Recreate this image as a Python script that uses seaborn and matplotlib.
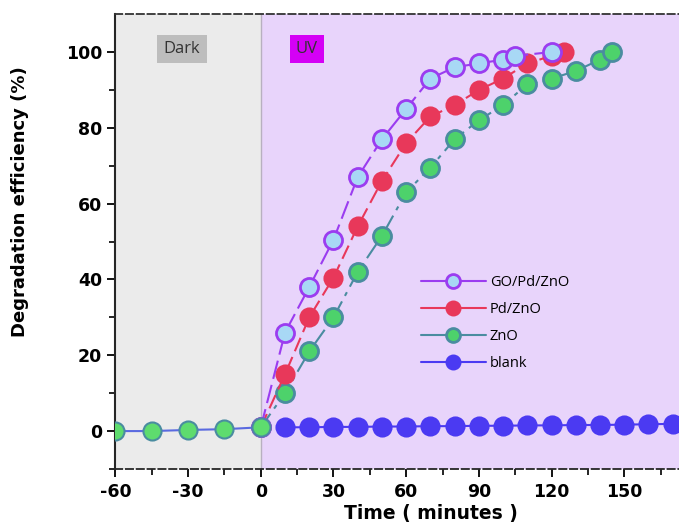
import matplotlib
matplotlib.use('Agg')
import matplotlib.pyplot as plt
import seaborn as sns
import numpy as np

# dark phase (adsorption), shared by all samples
dark_time = [-60, -45, -30, -15, 0]
dark_values = [0.0, 0.0, 0.3, 0.5, 1.0]

# UV phase
go_time = [0, 10, 20, 30, 40, 50, 60, 70, 80, 90, 100, 105, 120]
go_values = [1, 26, 38, 50.5, 67, 77, 85, 93, 96, 97, 98, 99, 100]

pd_time = [0, 10, 20, 30, 40, 50, 60, 70, 80, 90, 100, 110, 120, 125]
pd_values = [1, 15, 30, 40.5, 54, 66, 76, 83, 86, 90, 93, 97, 99, 100]

zno_time = [0, 10, 20, 30, 40, 50, 60, 70, 80, 90, 100, 110, 120, 130, 140, 145]
zno_values = [1, 10, 21, 30, 42, 51.5, 63, 69.5, 77, 82, 86, 91.5, 93, 95, 98, 100]

blank_time = [10, 20, 30, 40, 50, 60, 70, 80, 90, 100, 110, 120, 130, 140, 150, 160, 170]
blank_values = [1.0, 1.0, 1.1, 1.1, 1.2, 1.2, 1.3, 1.3, 1.4, 1.4, 1.5, 1.5, 1.6, 1.6, 1.7, 1.8, 1.9]

sns.set_style('ticks')
plt.rcParams['font.family'] = ['DejaVu Sans']
plt.rcParams['axes.unicode_minus'] = False
plt.rcParams['text.color'] = 'black'
plt.rcParams['axes.labelcolor'] = 'black'
plt.rcParams['xtick.color'] = 'black'
plt.rcParams['ytick.color'] = 'black'

fig = plt.figure(figsize=(6.79, 5.24), dpi=100)
ax = fig.add_axes([0.170, 0.105, 0.835, 0.868])

ax.axvspan(-60, 0, color='#EBEBEB', zorder=0, lw=0)
ax.axvspan(0, 180, color='#E8D4FB', zorder=0, lw=0)
ax.axvline(0, color='#B8B0C0', lw=1, zorder=1)

ms = 13
sns.lineplot(x=blank_time, y=blank_values, ax=ax, color='#4B3AF2', lw=1.5,
             marker='o', markersize=ms, markerfacecolor='#4B3AF2',
             markeredgecolor='#4B3AF2', markeredgewidth=1.5, label='blank', zorder=3)
sns.lineplot(x=zno_time, y=zno_values, ax=ax, color='#4A8CA0', lw=1.5,
             linestyle=(0, (8, 3, 2, 3)), marker='o', markersize=ms,
             markerfacecolor='#4DD26B', markeredgecolor='#4A8CA0',
             markeredgewidth=2, label='ZnO', zorder=4)
sns.lineplot(x=pd_time, y=pd_values, ax=ax, color='#E8385A', lw=1.5,
             linestyle=(0, (7, 3)), marker='o', markersize=ms,
             markerfacecolor='#E8385A', markeredgecolor='#E8385A',
             markeredgewidth=1.5, label='Pd/ZnO', zorder=5)
sns.lineplot(x=go_time, y=go_values, ax=ax, color='#9B3CF0', lw=1.5,
             linestyle=(0, (9, 3)), marker='o', markersize=ms,
             markerfacecolor='#A8D8F5', markeredgecolor='#9B3CF0',
             markeredgewidth=2, label='GO/Pd/ZnO', zorder=6)
ax.plot(dark_time, dark_values, color='#5A6AE0', lw=1.5, marker='o', markersize=ms,
        markerfacecolor='#5EDC6E', markeredgecolor='#4A8CA0', markeredgewidth=1.5, zorder=7)

ax.set_xlim(-60, 174)
ax.set_ylim(-10, 110)
ax.set_xticks(np.arange(-60, 151, 30))
ax.set_xticks(np.arange(-45, 174, 30), minor=True)
ax.set_yticks(np.arange(0, 101, 20))
ax.set_yticks(np.arange(-10, 101, 10), minor=True)
ax.tick_params(axis='both', which='major', direction='out', length=6, width=1.3,
               labelsize=12.5)
ax.tick_params(axis='x', which='major', pad=4)
ax.tick_params(axis='both', which='minor', direction='out', length=4, width=1.2)
for lab in ax.get_xticklabels() + ax.get_yticklabels():
    lab.set_fontweight('bold')

ax.set_xlabel('Time ( minutes )', fontsize=13.5, fontweight='bold')
ax.set_ylabel('Degradation efficiency (%)', fontsize=13, fontweight='bold')
ax.xaxis.set_label_coords(0.556, -0.077)
ax.yaxis.set_label_coords(-0.153, 0.587)

sns.despine(ax=ax, top=False, right=True)
ax.spines['left'].set_linewidth(1.5)
ax.spines['bottom'].set_linewidth(1.3)
ax.spines['bottom'].set_linestyle((0, (4, 2)))
ax.spines['top'].set_linewidth(1.3)
ax.spines['top'].set_color('#333333')
ax.spines['top'].set_linestyle((0, (4, 2)))

ax.text(-32.5, 100.8, 'Dark', ha='center', va='center', fontsize=12, family='Open Sans',
        color='#333333', zorder=8,
        bbox=dict(boxstyle='square,pad=0.38', fc='#BDBDBD', ec='none'))
ax.text(19, 100.8, 'UV', ha='center', va='center', fontsize=12, family='Open Sans',
        color='#333333', zorder=8,
        bbox=dict(boxstyle='square,pad=0.38', fc='#D400F5', ec='none'))

handles, labels = ax.get_legend_handles_labels()
order = [labels.index(n) for n in ['GO/Pd/ZnO', 'Pd/ZnO', 'ZnO', 'blank']]
leg = ax.legend([handles[i] for i in order], [labels[i] for i in order],
                loc='upper left', bbox_to_anchor=(0.515, 0.455), frameon=False,
                handlelength=4.5, handletextpad=0.25, labelspacing=0.82,
                prop={'family': 'Open Sans', 'size': 10.5})
for h in leg.legend_handles:
    h.set_linestyle('-')
    h.set_markersize(10)

fig.savefig('out.png', dpi=100)
